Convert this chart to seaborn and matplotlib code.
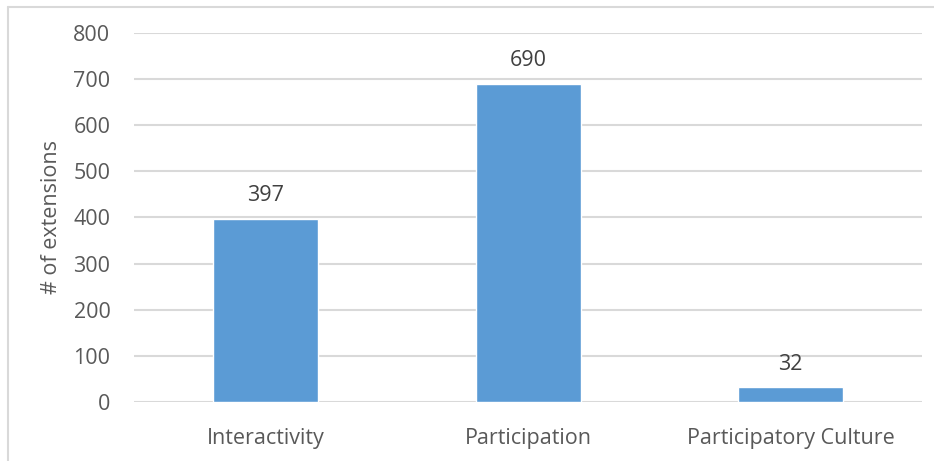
import matplotlib
matplotlib.use("Agg")
import matplotlib.pyplot as plt
from matplotlib.lines import Line2D
import seaborn as sns
import pandas as pd

categories = ["Interactivity", "Participation", "Participatory Culture"]
counts = [397, 690, 32]
y_ticks = [0, 100, 200, 300, 400, 500, 600, 700, 800]

sns.set_theme(style="white")
plt.rcParams["font.family"] = ["Open Sans", "DejaVu Sans"]

df = pd.DataFrame({"category": categories, "count": counts})

fig = plt.figure(figsize=(9.34, 4.61), dpi=100)
ax = fig.add_axes([0.1435, 0.128, 0.8437, 0.8004])

sns.barplot(data=df, x="category", y="count", color="#5B9BD5", width=0.4,
            saturation=1, ax=ax, zorder=3)

ax.set_xlim(-0.5, 2.5)
ax.set_ylim(0, 800)
ax.set_yticks(y_ticks)
ax.yaxis.grid(True, color="#D9D9D9", linewidth=1.5, zorder=0)
ax.xaxis.grid(False)
for s in ax.spines.values():
    s.set_visible(False)

fs = 15.5
ax.tick_params(axis="y", length=0, pad=17, labelsize=fs, labelcolor="#595959")
ax.tick_params(axis="x", length=0, pad=19, labelsize=fs, labelcolor="#595959")
ax.set_xlabel("")
ax.set_ylabel("# of extensions", fontsize=fs, color="#595959", labelpad=8)

for cont in ax.containers:
    ax.bar_label(cont, labels=[str(v) for v in counts], padding=9,
                 fontsize=fs, color="#404040")

# chart frame (top and left edges)
fig.add_artist(Line2D([7.5 / 934, 1.0], [1 - 7.5 / 461] * 2,
                      transform=fig.transFigure, color="#D9D9D9", linewidth=1.5))
fig.add_artist(Line2D([7.5 / 934] * 2, [0.0, 1 - 7.5 / 461],
                      transform=fig.transFigure, color="#D9D9D9", linewidth=1.5))

fig.savefig("out.png", dpi=100, facecolor="white")
